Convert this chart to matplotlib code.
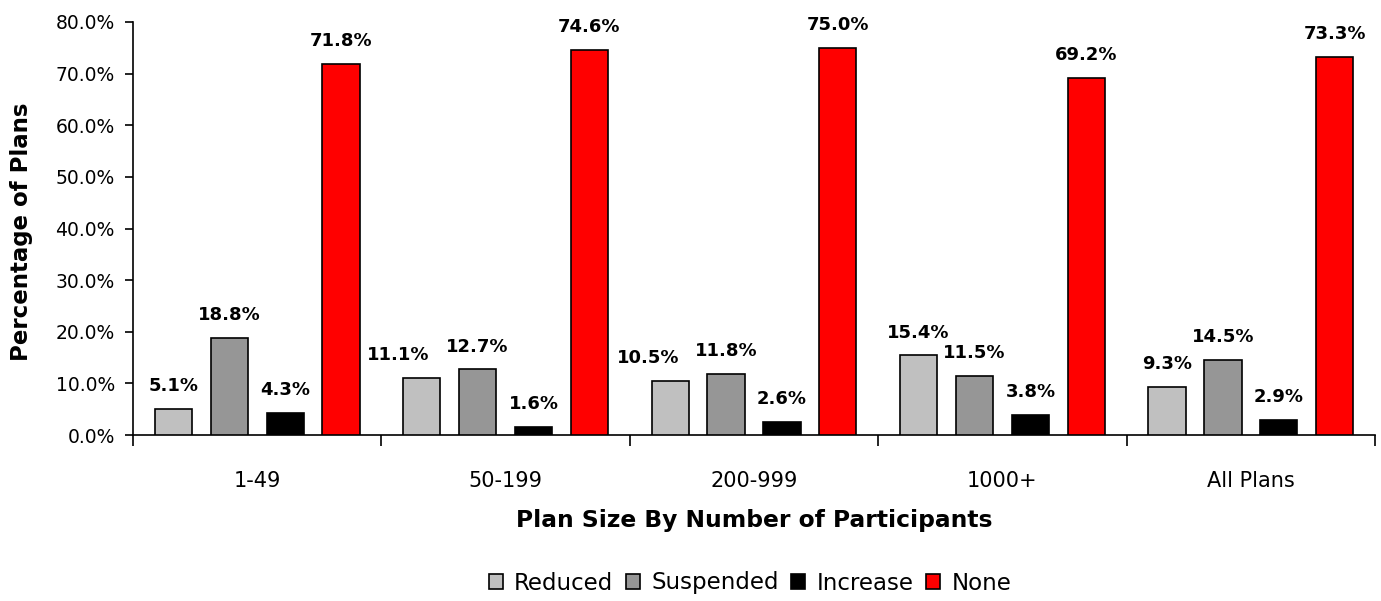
import matplotlib
matplotlib.use("Agg")
import matplotlib.pyplot as plt
import numpy as np

# plan size groups and the share of plans per action
groups = ["1-49", "50-199", "200-999", "1000+", "All Plans"]
series = ["Reduced", "Suspended", "Increase", "None"]
reduced = [5.1, 11.1, 10.5, 15.4, 9.3]
suspended = [18.8, 12.7, 11.8, 11.5, 14.5]
increase = [4.3, 1.6, 2.6, 3.8, 2.9]
none = [71.8, 74.6, 75.0, 69.2, 73.3]
colors = ["#C0C0C0", "#969696", "#000000", "#FF0000"]

# labels that were nudged left in the original so they don't collide
nudge = {("Reduced", 1): -17, ("Reduced", 2): -16}


def make_chart():
    fig = plt.figure(figsize=(13.81, 6.01), dpi=100)
    ax = fig.add_axes([0.0963, 0.2762, 0.8994, 0.6872])

    x = np.arange(len(groups))
    width = 0.15
    step = 0.225
    values = [reduced, suspended, increase, none]

    for k, (name, vals, col) in enumerate(zip(series, values, colors)):
        pos = x + (k - 1.5) * step
        ax.bar(pos, vals, width, color=col, edgecolor="black", linewidth=1.2,
               label=name, zorder=3)
        for i, v in enumerate(vals):
            dx = nudge.get((name, i), 0)
            ax.annotate(f"{v:.1f}%", xy=(pos[i], v), xytext=(dx, 10),
                        textcoords="offset points", ha="center", va="bottom",
                        fontsize=13, fontweight="bold")

    ax.set_xlim(-0.5, len(groups) - 0.5)
    ax.set_ylim(0, 80)
    ax.set_yticks(np.arange(0, 81, 10))
    ax.set_yticklabels([f"{t:.1f}%" for t in np.arange(0, 81, 10)], fontsize=13.5)

    ax.set_xticks(x)
    ax.set_xticklabels(groups, fontsize=15)
    ax.set_xticks(np.arange(-0.5, len(groups)), minor=True)
    ax.tick_params(axis="x", which="major", length=0, pad=26)
    ax.tick_params(axis="x", which="minor", length=8, width=1.2, direction="out")
    ax.tick_params(axis="y", length=6, width=1.2, direction="out", pad=7)

    for s in ["top", "right"]:
        ax.spines[s].set_visible(False)
    for s in ["left", "bottom"]:
        ax.spines[s].set_linewidth(1.2)

    fig.text(22 / 1381, 1 - 232 / 601, "Percentage of Plans", rotation=90,
             ha="center", va="center", fontsize=16.5, fontweight="bold")
    fig.text(754 / 1381, 1 - 521 / 601, "Plan Size By Number of Participants",
             ha="center", va="center", fontsize=16.8, fontweight="bold")

    fig.legend(loc="center", bbox_to_anchor=(750 / 1381, 1 - 583 / 601), ncol=4,
               frameon=False, fontsize=16.5, handlelength=0.6, handleheight=0.6,
               handletextpad=0.5, columnspacing=0.55, borderaxespad=0)

    fig.savefig("out.png", dpi=100)


if __name__ == "__main__":
    make_chart()
